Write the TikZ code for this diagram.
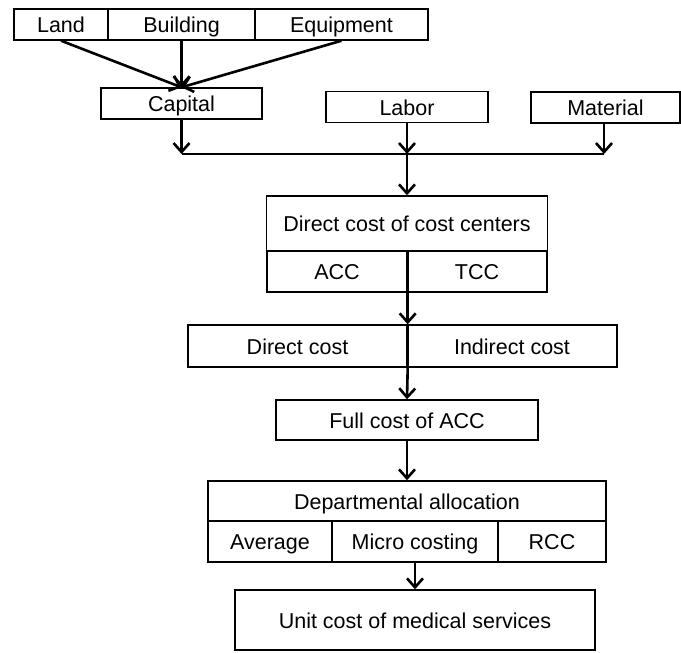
\documentclass[tikz,border=0pt]{standalone}
\usepackage{fontspec}
\setmainfont{Liberation Sans}
\usetikzlibrary{arrows.meta}

\tikzset{
  box/.style={draw, line width=1.4pt, fill=white, inner sep=0pt,
    minimum height=31pt, text height=16.5pt, text depth=0pt,
    font=\fontsize{21.5}{25}\selectfont},
  arr/.style={-{Straight Barb[length=9pt,width=16pt]}, line width=2.6pt},
  line/.style={line width=2.6pt}
}

\begin{document}
\begin{tikzpicture}[x=1pt,y=-1pt]
    \useasboundingbox (0,0) rectangle (681,653);
    % sources
    \node[box, minimum width=94pt]  (land)     at (61,24.5)    {Land};
    \node[box, minimum width=147pt] (building) at (181.5,24.5) {Building};
    \node[box, minimum width=173pt] (equip)    at (341.5,24.5) {Equipment};
    \node[box, minimum width=161pt] (capital)  at (181.5,103.5) {Capital};
    \node[box, minimum width=162pt] (labor)    at (407,107)    {Labor};
    \node[box, minimum width=149pt] (material) at (605.5,107.5) {Material};
    % cost centers
    \node[box, minimum width=281pt, minimum height=55pt] (dccc) at (407,223.5) {Direct cost of cost centers};
    \node[box, minimum width=140pt, minimum height=41pt] (acc)  at (337,271.5) {ACC};
    \node[box, minimum width=140pt, minimum height=41pt] (tcc)  at (477,271.5) {TCC};
    \node[box, minimum width=219pt, minimum height=42pt] (dcost) at (297.5,346) {Direct cost};
    \node[box, minimum width=210pt, minimum height=42pt] (icost) at (512,346)  {Indirect cost};
    \node[box, minimum width=262pt, minimum height=40pt] (full)  at (407,420)  {Full cost of ACC};
    % allocation
    \node[box, minimum width=398pt, minimum height=40pt] (dept)  at (407,501)   {Departmental allocation};
    \node[box, minimum width=124pt, minimum height=41pt] (avg)   at (270,541.5) {Average};
    \node[box, minimum width=166pt, minimum height=41pt] (micro) at (415,541.5) {Micro costing};
    \node[box, minimum width=108pt, minimum height=41pt] (rcc)   at (552,541.5) {RCC};
    \node[box, minimum width=360pt, minimum height=60pt] (unit)  at (415,620)   {Unit cost of medical services};

    \coordinate (c1) at (181.5,154);
    \coordinate (c2) at (407,154);
    \coordinate (c3) at (604,154);

    \draw[arr] (land.south) -- (capital.north);
    \draw[arr] (building.south) -- (capital.north);
    \draw[arr] (equip.south) -- (capital.north);
    \draw[arr] (capital.south) -- (c1);
    \draw[arr] (labor.south) -- (c2);
    \draw[arr] (material.south -| c3) -- (c3);
    \draw[line] (c1) -- (c3);
    \draw[arr] (c2) -- (dccc.north);
    \draw[line] (acc.north east) -- (acc.south east);
    \draw[arr] (acc.south east) -- (dcost.north east);
    \draw[line] (dcost.north east) -- (dcost.south east);
    \draw[arr] (dcost.south east) -- (full.north);
    \draw[arr] (full.south) -- (dept.north);
    \draw[arr] (micro.south) -- (unit.north);
\end{tikzpicture}
\end{document}
